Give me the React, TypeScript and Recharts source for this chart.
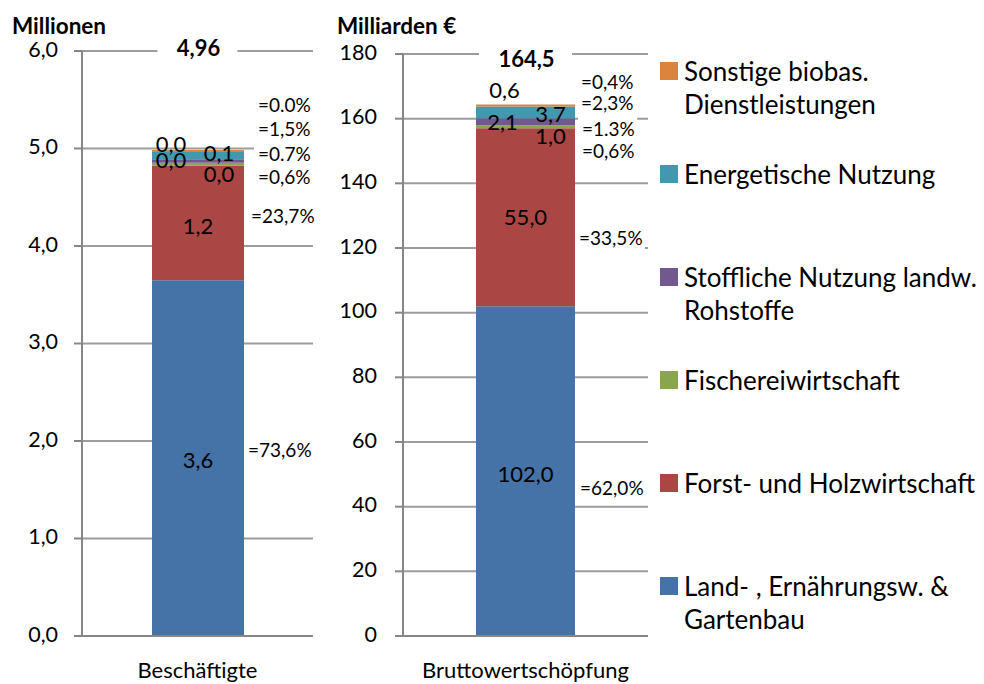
import React from 'react';
import {
  BarChart,
  Bar,
  XAxis,
  YAxis,
  CartesianGrid,
  LabelList,
  ReferenceLine,
  Legend,
} from 'recharts';

// ---------- data ----------
const seriesNames = [
  'Land- , Ernährungsw. & Gartenbau',
  'Forst- und Holzwirtschaft',
  'Fischereiwirtschaft',
  'Stoffliche Nutzung landw. Rohstoffe',
  'Energetische Nutzung',
  'Sonstige biobas. Dienstleistungen',
];
const seriesColors = ['#4572A7', '#AA4643', '#89A54E', '#71588F', '#4198AF', '#DB843D'];

const employmentCategory = 'Beschäftigte';
const employmentValues = [3.648, 1.176, 0.03, 0.035, 0.074, 0.002];
const employmentShares = ['=73,6%', '=23,7%', '=0,6%', '=0.7%', '=1,5%', '=0.0%'];
const employmentTotal = '4,96';
const employmentTicks = [0, 1, 2, 3, 4, 5, 6];
const employmentUnit = 'Millionen';

const valueAddedCategory = 'Bruttowertschöpfung';
const valueAddedValues = [102.0, 55.0, 1.0, 2.1, 3.7, 0.6];
const valueAddedShares = ['=62,0%', '=33,5%', '=0,6%', '=1.3%', '=2,3%', '=0,4%'];
const valueAddedTotal = '164,5';
const valueAddedTicks = [0, 20, 40, 60, 80, 100, 120, 140, 160, 180];
const valueAddedUnit = 'Milliarden €';

// ---------- styles ----------
const FONT = 'Lato, "Open Sans", sans-serif';
const AXIS_COLOR = '#868686';
const GRID_COLOR = '#9c9c9c';
const VALUE_FS = 22;
const SHARE_FS = 19;
const TICK_FS = 21.5;
const CAT_FS = 22;
const TOTAL_FS = 22;
const TITLE_FS = 22.5;
const LEGEND_FS = 26;

// label offsets (dx, dy) relative to each segment's centre
const LEFT_VALUE_OFFSETS = [[0, 2], [0, 3], [21, 10], [-27, -1], [21, -3], [-27, -7]];
const LEFT_SHARE_OFFSETS = [[4, -8], [7, -7], [14, 13], [14, -7], [14, -27], [14, -46]];
const RIGHT_VALUE_OFFSETS = [[0, 3], [0, 0], [25, 9], [-23, 0], [25, 2], [-21, -15]];
const RIGHT_SHARE_OFFSETS = [[5, 17], [4, 21], [7, 24], [7, 7], [6, -9], [6, -23]];

const fmt1 = (v: number) => Number(v).toFixed(1).replace('.', ',');

const buildRows = (category: string, values: number[], shares: string[]) => {
  const row: Record<string, string | number> = { name: category };
  values.forEach((v, i) => {
    row[`s${i}`] = v;
    row[`p${i}`] = shares[i];
  });
  return [row];
};

const employmentData = buildRows(employmentCategory, employmentValues, employmentShares);
const valueAddedData = buildRows(valueAddedCategory, valueAddedValues, valueAddedShares);

const valueLabel = (off: number[]) => (props: any) => {
  const { x, y, width, height, value } = props;
  const cx = Number(x) + Number(width) / 2 + off[0];
  const cy = Number(y) + Number(height) / 2 + off[1];
  return (
    <text
      x={cx}
      y={cy + VALUE_FS * 0.36}
      textAnchor="middle"
      fontSize={VALUE_FS}
      fontFamily={FONT}
      fill="#000"
    >
      {fmt1(Number(value))}
    </text>
  );
};

const shareLabel = (off: number[]) => (props: any) => {
  const { x, y, width, height, value } = props;
  const tx = Number(x) + Number(width) + off[0];
  const cy = Number(y) + Number(height) / 2 + off[1];
  const w = String(value).length * SHARE_FS * 0.56;
  return (
    <g>
      <rect x={tx - 4} y={cy - 13} width={w + 6} height={26} fill="#fff" />
      <text x={tx} y={cy + SHARE_FS * 0.36} fontSize={SHARE_FS} fontFamily={FONT} fill="#000">
        {value}
      </text>
    </g>
  );
};

const totalLabel = (text: string, dy: number, boxW: number) => (props: any) => {
  const vb = props.viewBox || {};
  const cx = Number(vb.x) + Number(vb.width) / 2;
  const cy = Number(vb.y);
  return (
    <g>
      <rect x={cx - boxW / 2} y={cy - 12} width={boxW} height={24} fill="#fff" />
      <text
        x={cx + 1}
        y={cy + dy + TOTAL_FS * 0.36}
        textAnchor="middle"
        fontSize={TOTAL_FS}
        fontWeight="bold"
        fontFamily={FONT}
        fill="#000"
      >
        {text}
      </text>
    </g>
  );
};

const axisTitle = (text: string, dx: number) => (props: any) => {
  const vb = props.viewBox || {};
  return (
    <text
      x={Number(vb.x) + dx}
      y={34}
      fontSize={TITLE_FS}
      fontWeight="bold"
      fontFamily={FONT}
      fill="#000"
    >
      {text}
    </text>
  );
};

const LegendContent = (props: any) => {
  const items = [...(props.payload || [])].sort(
    (a: any, b: any) => seriesNames.indexOf(b.value) - seriesNames.indexOf(a.value),
  );
  return (
    <div style={{ position: 'relative', fontFamily: FONT }}>
      {items.map((item: any, i: number) => (
        <div
          key={i}
          style={{ position: 'absolute', top: i * 103, left: 0, display: 'flex', alignItems: 'flex-start' }}
        >
          <span
            style={{
              width: 18,
              height: 18,
              background: item.color,
              marginTop: 7,
              marginRight: 6,
              flex: 'none',
              display: 'inline-block',
            }}
          />
          <span style={{ fontSize: LEGEND_FS, lineHeight: '33px', width: 298, color: '#000' }}>{item.value}</span>
        </div>
      ))}
    </div>
  );
};

interface PanelProps {
  data: Record<string, string | number>[];
  width: number;
  margin: { top: number; right: number; bottom: number; left: number };
  yWidth: number;
  domainMax: number;
  ticks: number[];
  tickFormatter: (v: number) => string;
  tickMargin: number;
  barSize: number;
  valueOffsets: number[][];
  shareOffsets: number[][];
  total: string;
  totalDy: number;
  totalBox: number;
  unit: string;
  unitDx: number;
  minTop: number;
  withLegend?: boolean;
}

const Panel = (p: PanelProps) => (
  <BarChart width={p.width} height={684} data={p.data} margin={p.margin}>
    <XAxis
      xAxisId="edges"
      type="number"
      domain={[0, 1]}
      ticks={[0, 1]}
      tick={false}
      axisLine={false}
      tickLine={{ stroke: AXIS_COLOR, strokeWidth: 2 }}
      tickSize={6}
      height={0}
    />
    <XAxis
      xAxisId="cat"
      dataKey="name"
      tickLine={false}
      tickSize={0}
      tickMargin={26}
      axisLine={{ stroke: AXIS_COLOR, strokeWidth: 2 }}
      tick={{ fontSize: CAT_FS, fill: '#000', fontFamily: FONT }}
      height={40}
    />
    <YAxis
      width={p.yWidth}
      domain={[0, p.domainMax]}
      ticks={p.ticks}
      interval={0}
      tickFormatter={p.tickFormatter}
      tickSize={8}
      tickMargin={p.tickMargin}
      axisLine={{ stroke: AXIS_COLOR, strokeWidth: 2 }}
      tickLine={{ stroke: AXIS_COLOR, strokeWidth: 2 }}
      tick={{ fontSize: TICK_FS, fill: '#000', fontFamily: FONT, dy: -2 }}
      label={{ content: axisTitle(p.unit, p.unitDx) }}
    />
    <CartesianGrid xAxisId="cat" vertical={false} stroke={GRID_COLOR} strokeWidth={2} />
    {seriesNames.map((name, i) => (
      <Bar
        key={name}
        xAxisId="cat"
        dataKey={`s${i}`}
        name={name}
        stackId="total"
        fill={seriesColors[i]}
        barSize={p.barSize}
        minPointSize={i === seriesNames.length - 1 ? p.minTop : 0}
        isAnimationActive={false}
      >
        <LabelList dataKey={`s${i}`} content={valueLabel(p.valueOffsets[i])} />
        <LabelList dataKey={`p${i}`} content={shareLabel(p.shareOffsets[i])} />
      </Bar>
    ))}
    <ReferenceLine
      xAxisId="cat"
      y={p.domainMax}
      stroke="none"
      label={totalLabel(p.total, p.totalDy, p.totalBox)}
    />
    {p.withLegend && (
      <Legend
        layout="horizontal"
        verticalAlign="middle"
        align="center"
        content={LegendContent}
        wrapperStyle={{ left: 330, top: 55, width: 324, height: 600 }}
      />
    )}
  </BarChart>
);

export default function App() {
  return (
    <div
      style={{
        position: 'absolute',
        left: 0,
        top: 0,
        width: 984,
        height: 684,
        background: '#fff',
        fontFamily: FONT,
        overflow: 'hidden',
      }}
    >
      <div style={{ position: 'absolute', left: 0, top: 0 }}>
        <Panel
          data={employmentData}
          width={330}
          margin={{ top: 51, right: 17, bottom: 8, left: 0 }}
          yWidth={82}
          domainMax={6}
          ticks={employmentTicks}
          tickFormatter={(v) => fmt1(v)}
          tickMargin={16}
          barSize={92}
          valueOffsets={LEFT_VALUE_OFFSETS}
          shareOffsets={LEFT_SHARE_OFFSETS}
          total={employmentTotal}
          totalDy={-2.5}
          totalBox={80}
          unit={employmentUnit}
          unitDx={12}
          minTop={2}
        />
      </div>
      <div style={{ position: 'absolute', left: 330, top: 0 }}>
        <Panel
          data={valueAddedData}
          width={654}
          margin={{ top: 54, right: 336, bottom: 8, left: 0 }}
          yWidth={73}
          domainMax={180}
          ticks={valueAddedTicks}
          tickFormatter={(v) => String(v)}
          tickMargin={18}
          barSize={99}
          valueOffsets={RIGHT_VALUE_OFFSETS}
          shareOffsets={RIGHT_SHARE_OFFSETS}
          total={valueAddedTotal}
          totalDy={5}
          totalBox={93}
          unit={valueAddedUnit}
          unitDx={7}
          minTop={0}
          withLegend
        />
      </div>
    </div>
  );
}
